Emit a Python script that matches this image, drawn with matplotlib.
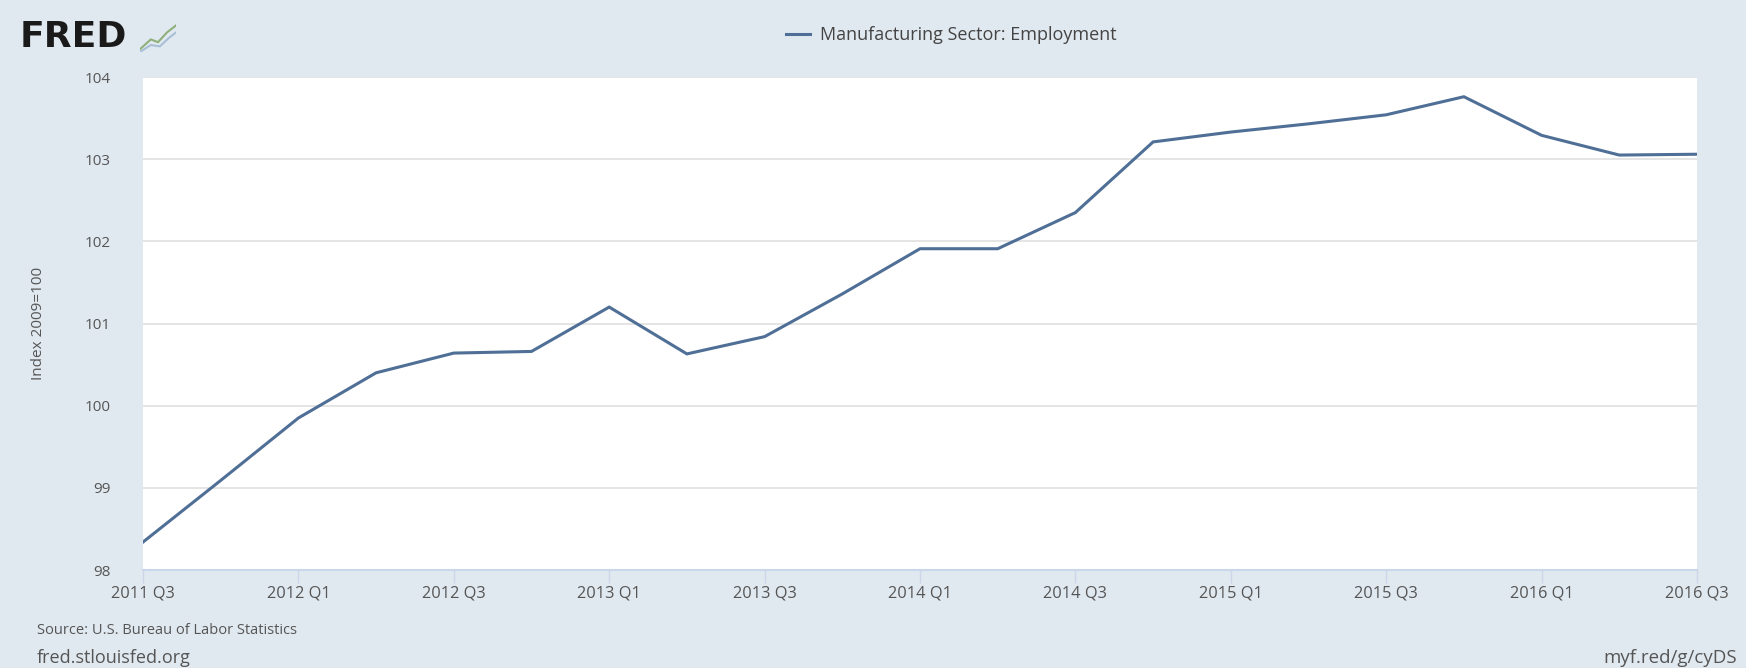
import matplotlib
matplotlib.use("Agg")
import matplotlib.pyplot as plt
from matplotlib.lines import Line2D

# ---- data ----
quarters = ["2011 Q3", "2011 Q4", "2012 Q1", "2012 Q2", "2012 Q3", "2012 Q4",
            "2013 Q1", "2013 Q2", "2013 Q3", "2013 Q4", "2014 Q1", "2014 Q2",
            "2014 Q3", "2014 Q4", "2015 Q1", "2015 Q2", "2015 Q3", "2015 Q4",
            "2016 Q1", "2016 Q2", "2016 Q3"]
employment = [98.34, 99.09, 99.85, 100.40, 100.64, 100.66,
              101.20, 100.63, 100.84, 101.36, 101.91, 101.91,
              102.35, 103.21, 103.33, 103.43, 103.54, 103.76,
              103.29, 103.05, 103.06]
y_ticks = [98, 99, 100, 101, 102, 103, 104]
series_name = "Manufacturing Sector: Employment"
y_label = "Index 2009=100"
source_text = "Source: U.S. Bureau of Labor Statistics"

BG = "#e1e9f0"
LINE = "#4f6f96"
TXT = "#555555"
FONT = ["Open Sans", "DejaVu Sans"]

plt.rcParams['font.family'] = FONT

W, H = 1746, 668
fig = plt.figure(figsize=(W / 100, H / 100), dpi=100, facecolor=BG)
left, right, top, bottom = 143, 1697, 77, 570
ax = fig.add_axes([left / W, 1 - bottom / H, (right - left) / W, (bottom - top) / H])
ax.set_facecolor("white")

x = list(range(len(quarters)))
ax.plot(x, employment, color=LINE, linewidth=2.2, solid_joinstyle="miter")

ax.set_xlim(0, len(quarters) - 1)
ax.set_ylim(min(y_ticks), max(y_ticks))
ax.set_yticks(y_ticks)
ax.set_yticklabels([str(t) for t in y_ticks])
ax.set_xticks(x[::2])
ax.set_xticklabels(quarters[::2])

ax.grid(axis="y", color="#e3e3e3", linewidth=1.3)
ax.set_axisbelow(True)
for s in ["top", "right", "left"]:
    ax.spines[s].set_visible(False)
ax.spines["bottom"].set_color("#ccd6eb")
ax.spines["bottom"].set_linewidth(1.5)
ax.tick_params(axis="x", colors="#ccd6eb", labelcolor=TXT, length=9, width=1,
               labelsize=11.8, pad=2)
ax.tick_params(axis="y", length=0, labelcolor=TXT, labelsize=11, pad=23)

ax.set_ylabel(y_label, color=TXT, fontsize=11, labelpad=28)

# legend
handle = Line2D([], [], color=LINE, linewidth=2.2)
fig.legend([handle], [series_name], loc="center", bbox_to_anchor=(0.545, 1 - 35 / H),
           frameon=False, fontsize=13, handlelength=1.3, handletextpad=0.6,
           labelcolor="#444444")

# FRED logo
fig.text(20 / W, 1 - 37 / H, "FRED", fontsize=26, fontweight="heavy",
         family=["DejaVu Sans"], color="#1a1a1a", va="center", ha="left")
icon_ax = fig.add_axes([140 / W, 1 - 52 / H, 36 / W, 28 / H])
icon_ax.axis("off")
icon_ax.plot([0, 0.3, 0.5, 0.75, 1.0], [0.1, 0.45, 0.35, 0.7, 0.95], color="#8fb07a", lw=1.5)
icon_ax.plot([0, 0.3, 0.55, 0.8, 1.0], [0.0, 0.25, 0.2, 0.5, 0.7], color="#a9bfd6", lw=1.5)
icon_ax.set_xlim(0, 1)
icon_ax.set_ylim(0, 1)

# footer
fig.text(37 / W, 1 - 631 / H, source_text, fontsize=10.5, color=TXT, va="center")
fig.text(37 / W, 1 - 658 / H, "fred.stlouisfed.org", fontsize=13, color=TXT, va="center")
fig.text(1737 / W, 1 - 658 / H, "myf.red/g/cyDS", fontsize=13.5, color=TXT,
         va="center", ha="right")

fig.savefig("out.png", dpi=100, facecolor=BG)
